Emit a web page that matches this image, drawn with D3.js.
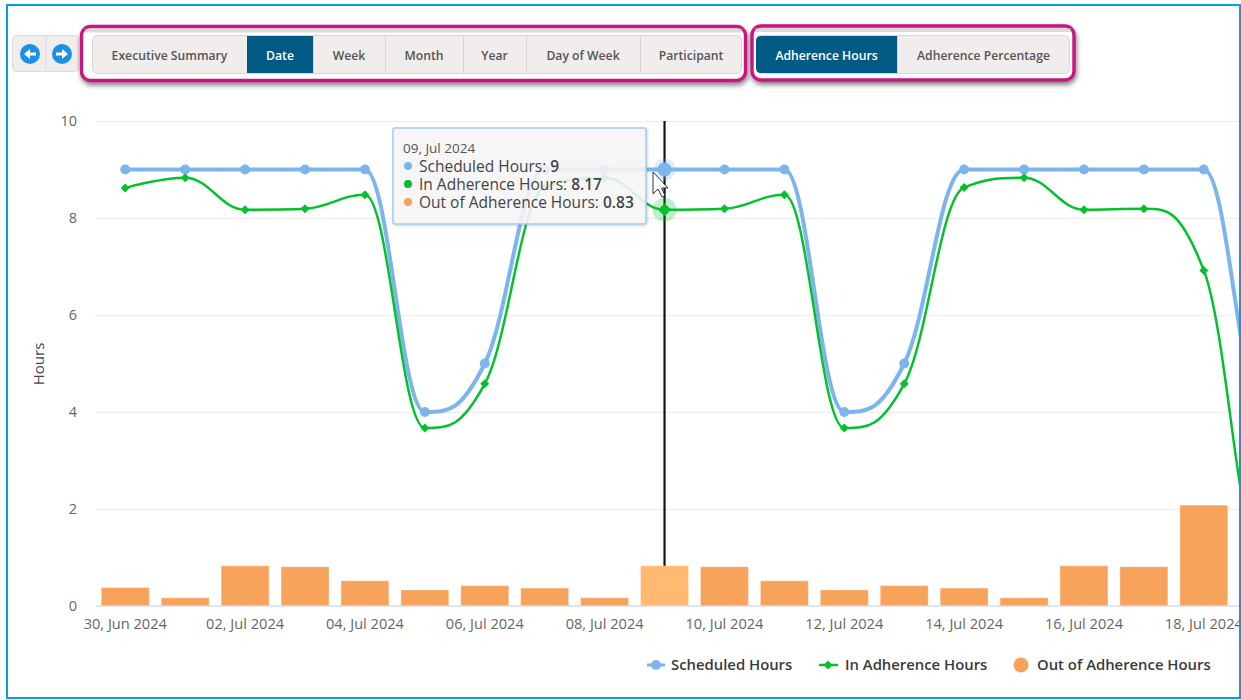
<!DOCTYPE html>
<html><head><meta charset="utf-8">
<script src="https://cdn.jsdelivr.net/npm/d3@7/dist/d3.min.js"></script>
<style>
html,body{margin:0;padding:0;background:#fff;overflow:hidden}
svg{display:block}
text{font-family:"Open Sans","Noto Sans",sans-serif}
</style></head><body>
<svg id="c" width="1241" height="700"></svg>
<script>
const categories=["30, Jun 2024","01, Jul 2024","02, Jul 2024","03, Jul 2024","04, Jul 2024","05, Jul 2024","06, Jul 2024","07, Jul 2024","08, Jul 2024","09, Jul 2024","10, Jul 2024","11, Jul 2024","12, Jul 2024","13, Jul 2024","14, Jul 2024","15, Jul 2024","16, Jul 2024","17, Jul 2024","18, Jul 2024","19, Jul 2024","20, Jul 2024"];
const scheduledHours=[9,9,9,9,9,4,5,9,9,9,9,9,4,5,9,9,9,9,9,4,5];
const inAdherenceHours=[8.62,8.83,8.17,8.19,8.48,3.67,4.58,8.63,8.83,8.17,8.19,8.48,3.67,4.58,8.63,8.83,8.17,8.19,6.92,0.8,4.58];
const outOfAdherenceHours=[0.38,0.17,0.83,0.81,0.52,0.33,0.42,0.37,0.17,0.83,0.81,0.52,0.33,0.42,0.37,0.17,0.83,0.81,2.08,3.2,0.42];
const yTicks=[0,2,4,6,8,10];
const xTickLabels=categories.filter((d,i)=>i%2===0);
const seriesNames=["Scheduled Hours","In Adherence Hours","Out of Adherence Hours"];
const tabsMain=[["Executive Summary",92,247],["Date",247,313],["Week",313,385],["Month",385,463],["Year",463,526],["Day of Week",526,640],["Participant",640,742]];
const tabsMode=[["Adherence Hours",756,897],["Adherence Percentage",897,1070]];
const hoverIndex=9;

const BLUE="#7cb5ec",GREEN="#03c02e",ORANGE="#f7a35c",ORANGE_HI="#ffb970",DARK="#005a84",PINK="#c7157f",TABBG="#f1eded";
const svg=d3.select("#c");
const defs=svg.append("defs");
defs.append("clipPath").attr("id","plot").append("rect").attr("x",90).attr("y",100).attr("width",1150).attr("height",600);
const sh=defs.append("filter").attr("id","shadow").attr("x","-5%").attr("y","-30%").attr("width","110%").attr("height","170%");
sh.append("feDropShadow").attr("dx",1).attr("dy",3).attr("stdDeviation",2.5).attr("flood-color","#000").attr("flood-opacity",.5);
const ts=defs.append("filter").attr("id","tipshadow").attr("x","-5%").attr("y","-10%").attr("width","110%").attr("height","125%");
ts.append("feDropShadow").attr("dx",1).attr("dy",1).attr("stdDeviation",1.2).attr("flood-color","#000").attr("flood-opacity",.18);

const x=d3.scaleBand().domain(categories).range([95.3,95.3+59.92*categories.length]).paddingInner(0.2).paddingOuter(0.1);
const y=d3.scaleLinear().domain([0,10]).range([606,121]);
const cx=d=>x(d)+x.bandwidth()/2;

// Spline with clamped control points
function SplineCurve(context){this._c=context;}
SplineCurve.prototype={
  areaStart(){},areaEnd(){},
  lineStart(){this._p=[];},
  point(a,b){this._p.push([+a,+b]);},
  lineEnd(){
    const p=this._p,c=this._c,s=1.5,dn=2.5,n=p.length,L=[],R=[];
    for(let i=0;i<n;i++){
      const [px,py]=p[i];
      if(i===0||i===n-1){L[i]=[px,py];R[i]=[px,py];continue;}
      const [lx,ly]=p[i-1],[nx,ny]=p[i+1];
      let lcx=(s*px+lx)/dn,lcy=(s*py+ly)/dn,rcx=(s*px+nx)/dn,rcy=(s*py+ny)/dn;
      const k=((rcy-lcy)*(rcx-px))/(rcx-lcx)+py-rcy;lcy+=k;rcy+=k;
      if(lcy>ly&&lcy>py){lcy=Math.max(ly,py);rcy=2*py-lcy;}
      else if(lcy<ly&&lcy<py){lcy=Math.min(ly,py);rcy=2*py-lcy;}
      if(rcy>ny&&rcy>py){rcy=Math.max(ny,py);lcy=2*py-rcy;}
      else if(rcy<ny&&rcy<py){rcy=Math.min(ny,py);lcy=2*py-rcy;}
      L[i]=[lcx,lcy];R[i]=[rcx,rcy];
    }
    c.moveTo(p[0][0],p[0][1]);
    for(let i=1;i<n;i++)c.bezierCurveTo(R[i-1][0],R[i-1][1],L[i][0],L[i][1],p[i][0],p[i][1]);
  }
};
const spline=ctx=>new SplineCurve(ctx);

// Axes
const gridG=svg.append("g").attr("transform","translate(96,0)")
  .call(d3.axisLeft(y).tickValues(yTicks.filter(d=>d>0)).tickSize(-1143).tickFormat(""));
gridG.select(".domain").remove();
gridG.selectAll("line").attr("stroke","#eeeeee").attr("stroke-width",1.3);

const yAxis=svg.append("g").attr("transform","translate(81,0)")
  .call(d3.axisLeft(y).tickValues(yTicks).tickSize(0).tickPadding(4));
yAxis.select(".domain").remove();
yAxis.selectAll("text").attr("font-family",'"Open Sans","Noto Sans",sans-serif').attr("font-size",14.5).attr("fill","#666666");

svg.append("text").attr("transform","translate(44,364) rotate(-90)").attr("text-anchor","middle")
  .attr("font-size",15).attr("fill","#444444").text("Hours");

// Bars
const plot=svg.append("g").attr("clip-path","url(#plot)");
plot.selectAll("rect.bar").data(categories).join("rect").attr("class","bar")
  .attr("x",d=>x(d)).attr("width",x.bandwidth())
  .attr("y",(d,i)=>y(outOfAdherenceHours[i])).attr("height",(d,i)=>y(0)-y(outOfAdherenceHours[i]))
  .attr("fill",(d,i)=>i===hoverIndex?ORANGE_HI:ORANGE).attr("stroke","#fff").attr("stroke-opacity",.35).attr("stroke-width",1);

// X axis
defs.append("clipPath").attr("id","xlabels").append("rect").attr("x",0).attr("y",600).attr("width",1239).attr("height",60);
const xAxis=svg.append("g").attr("clip-path","url(#xlabels)").append("g").attr("transform","translate(0,606)")
  .call(d3.axisBottom(x).tickValues(xTickLabels.filter(d=>!d.startsWith("20"))).tickSize(0).tickPadding(13));
xAxis.select(".domain").remove();
xAxis.selectAll("text").attr("font-family",'"Open Sans","Noto Sans",sans-serif').attr("font-size",14.6).attr("fill","#666666");
svg.append("line").attr("x1",96).attr("x2",1239).attr("y1",y(0)).attr("y2",y(0)).attr("stroke","#d5dbee").attr("stroke-width",1.6);

// Crosshair
plot.append("line").attr("x1",cx(categories[hoverIndex])).attr("x2",cx(categories[hoverIndex]))
  .attr("y1",y(10)).attr("y2",y(outOfAdherenceHours[hoverIndex])).attr("stroke","#111").attr("stroke-width",2.2);

// Lines
const line=d3.line().x((d,i)=>cx(categories[i])).y(d=>y(d)).curve(spline);
plot.append("path").datum(scheduledHours).attr("d",line).attr("fill","none").attr("stroke",BLUE).attr("stroke-width",4);
plot.append("path").datum(inAdherenceHours).attr("d",line).attr("fill","none").attr("stroke",GREEN).attr("stroke-width",2.5);

// Markers
const diamond=r=>`M0,${-r}L${r},0L0,${r}L${-r},0Z`;
plot.selectAll("circle.m").data(scheduledHours).join("circle").attr("class","m")
  .attr("cx",(d,i)=>cx(categories[i])).attr("cy",d=>y(d)).attr("r",5).attr("fill",BLUE);
plot.selectAll("path.d").data(inAdherenceHours).join("path").attr("class","d")
  .attr("transform",(d,i)=>`translate(${cx(categories[i])},${y(d)})`).attr("d",diamond(4.5)).attr("fill",GREEN);

// Hover markers
const hx=cx(categories[hoverIndex]);
plot.append("circle").attr("cx",hx).attr("cy",y(scheduledHours[hoverIndex])).attr("r",11).attr("fill",BLUE).attr("opacity",.25);
plot.append("circle").attr("cx",hx).attr("cy",y(scheduledHours[hoverIndex])).attr("r",7).attr("fill",BLUE);
plot.append("circle").attr("cx",hx).attr("cy",y(inAdherenceHours[hoverIndex])).attr("r",12).attr("fill",GREEN).attr("opacity",.25);
plot.append("path").attr("transform",`translate(${hx},${y(inAdherenceHours[hoverIndex])})`).attr("d",diamond(6.5)).attr("fill",GREEN);

// Tooltip
const tip=svg.append("g").attr("transform","translate(393,128)");
tip.append("rect").attr("x",0).attr("y",0).attr("width",253).attr("height",96).attr("rx",2)
  .attr("fill","#f7f7f7").attr("fill-opacity",.88).attr("stroke","#a9ccf0").attr("stroke-width",1.6).attr("filter","url(#tipshadow)");
tip.append("text").attr("x",10).attr("y",24.5).attr("font-size",13.5).attr("fill","#555").text(categories[hoverIndex]);
const tipVals=[scheduledHours[hoverIndex],inAdherenceHours[hoverIndex],outOfAdherenceHours[hoverIndex]];
const tipCols=[BLUE,GREEN,ORANGE];
seriesNames.forEach((n,i)=>{
  const yy=38+i*18;
  tip.append("circle").attr("cx",15).attr("cy",yy).attr("r",4).attr("fill",tipCols[i]);
  const t=tip.append("text").attr("x",26).attr("y",yy+5.5).attr("font-size",15.5).attr("fill","#444");
  t.append("tspan").text(n+": ");
  t.append("tspan").attr("font-weight",600).text(tipVals[i]);
});

// Mouse pointer
svg.append("path").attr("transform","translate(653,172)")
  .attr("d","M0,0L0,22L5,17L9,25L12,23.5L8.5,16L15,16Z").attr("fill","#fff").attr("stroke","#333").attr("stroke-width",1);

// Legend
const lg=svg.append("g");
lg.append("line").attr("x1",647).attr("x2",665).attr("y1",665).attr("y2",665).attr("stroke",BLUE).attr("stroke-width",3);
lg.append("circle").attr("cx",656).attr("cy",665).attr("r",5).attr("fill",BLUE);
lg.append("line").attr("x1",819).attr("x2",838).attr("y1",665).attr("y2",665).attr("stroke",GREEN).attr("stroke-width",2.5);
lg.append("path").attr("transform","translate(828,665)").attr("d",diamond(4.5)).attr("fill",GREEN);
lg.append("circle").attr("cx",1021).attr("cy",665).attr("r",7.5).attr("fill",ORANGE);
[671,845,1037].forEach((xx,i)=>lg.append("text").attr("x",xx).attr("y",670).attr("font-size",14.85).attr("font-weight",600).attr("fill","#3a3a3a").text(seriesNames[i]));

// Nav
const nav=svg.append("g");
nav.append("rect").attr("x",12.5).attr("y",35.5).attr("width",66).attr("height",36).attr("rx",4).attr("fill",TABBG).attr("stroke","#dcdcdc");
nav.append("line").attr("x1",46).attr("x2",46).attr("y1",36).attr("y2",71).attr("stroke","#dcdcdc");
[[30,-1],[62,1]].forEach(([c,dir])=>{
  nav.append("circle").attr("cx",c).attr("cy",54).attr("r",10).attr("fill","#1b90e8");
  nav.append("path").attr("transform",`translate(${c},54) scale(${dir},1)`)
    .attr("d","M-6,-1.5H0V-5L6,0L0,5V1.5H-6Z").attr("fill","#fff");
});

// Tab groups
function tabs(list,frame){
  const g=svg.append("g");
  g.append("rect").attr("x",frame[0]).attr("y",frame[1]).attr("width",frame[2]).attr("height",frame[3]).attr("rx",9)
    .attr("fill","#fff").attr("stroke",PINK).attr("stroke-width",3.4).attr("filter","url(#shadow)");
  g.append("rect").attr("x",frame[0]+3).attr("y",frame[1]+2).attr("width",frame[2]-6).attr("height",4).attr("fill","#bbb").attr("opacity",.55);
  const x0=list[0][1],x1=list[list.length-1][2];
  g.append("rect").attr("x",x0+.5).attr("y",35.5).attr("width",x1-x0-1).attr("height",38).attr("rx",5).attr("fill",TABBG).attr("stroke","#d6d6d6");
  list.forEach(([label,a,b],i)=>{
    const active=label==="Date"||label==="Adherence Hours";
    if(active){
      if(a===x0) g.append("path").attr("d",`M${a+5},36H${b}V73H${a+5}Q${a},73 ${a},68V41Q${a},36 ${a+5},36Z`).attr("fill",DARK);
      else g.append("rect").attr("x",a).attr("y",36).attr("width",b-a).attr("height",37).attr("fill",DARK);
    }
    if(i>0&&!active) g.append("line").attr("x1",a+.5).attr("x2",a+.5).attr("y1",36).attr("y2",73).attr("stroke","#d6d6d6");
    g.append("text").attr("x",(a+b)/2).attr("y",59.5).attr("text-anchor","middle").attr("font-size",12.2).attr("font-weight",600)
      .attr("fill",active?"#fff":"#555").text(label);
  });
}
tabs(tabsMain,[81.5,26.5,664,54]);
tabs(tabsMode,[752,26,322,54]);

// Outer frame
svg.append("rect").attr("x",7).attr("y",5).attr("width",1233).attr("height",693).attr("fill","none").attr("stroke","#0a9ddb").attr("stroke-width",2);
</script>
</body></html>
